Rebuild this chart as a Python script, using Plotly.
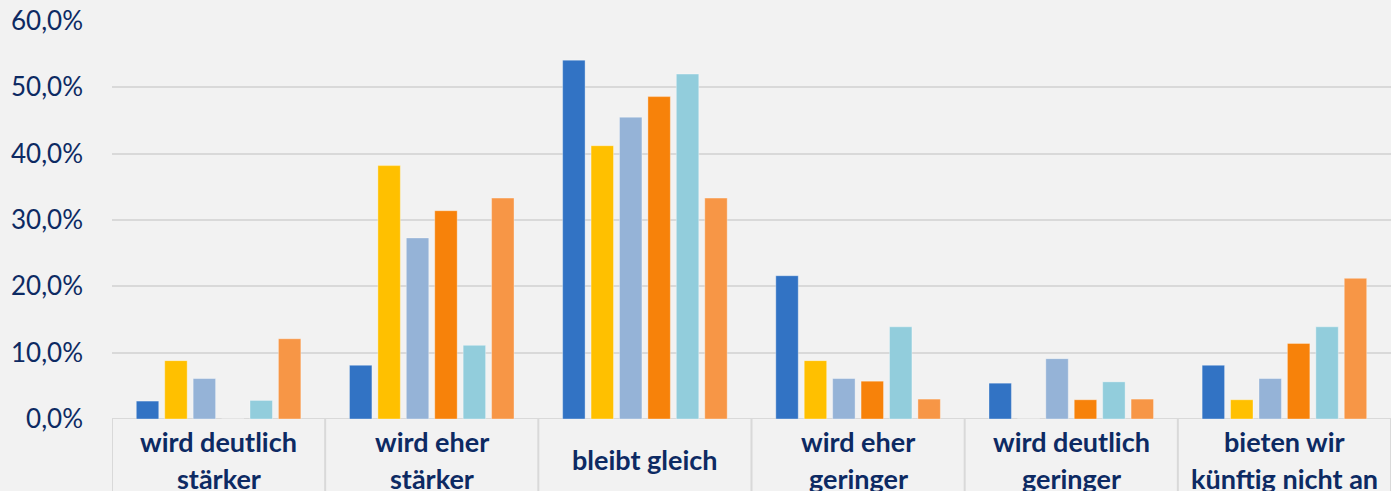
import plotly.graph_objects as go

categories = ["wird deutlich<br>stärker", "wird eher<br>stärker", "bleibt gleich",
              "wird eher<br>geringer", "wird deutlich<br>geringer", "bieten wir<br>künftig nicht an"]

series_names = ["Gruppe 1", "Gruppe 2", "Gruppe 3", "Gruppe 4", "Gruppe 5", "Gruppe 6"]
s1 = [2.7, 8.1, 54.1, 21.6, 5.4, 8.1]
s2 = [8.8, 38.2, 41.2, 8.8, 0.0, 2.9]
s3 = [6.1, 27.3, 45.5, 6.1, 9.1, 6.1]
s4 = [0.0, 31.4, 48.6, 5.7, 2.9, 11.4]
s5 = [2.8, 11.1, 52.0, 13.9, 5.6, 13.9]
s6 = [12.1, 33.3, 33.3, 3.0, 3.0, 21.2]
all_series = [s1, s2, s3, s4, s5, s6]
colors = ["#3273C4", "#FFC000", "#95B3D7", "#F7820A", "#92CDDC", "#F79646"]

tick_vals = [0, 10, 20, 30, 40, 50, 60]
tick_labels = ["0,0%", "10,0%", "20,0%", "30,0%", "40,0%", "50,0%", "60,0%"]

text_color = "#0D2A63"
grid_color = "#D9D9D9"
bg = "#F2F2F2"

W, H = 1391, 491
ml, mr, mt, mb = 112, 0, 21, 72
plot_h = H - mt - mb

fig = go.Figure()
x_idx = list(range(len(categories)))
for name, vals, col in zip(series_names, all_series, colors):
    fig.add_trace(go.Bar(
        x=x_idx, y=vals, name=name,
        marker=dict(color=col, line=dict(color="rgba(255,255,255,0.35)", width=1)),
        showlegend=False,
    ))

shapes = []
for i in range(len(categories) + 1):
    shapes.append(dict(type="line", xref="x", yref="paper",
                       x0=i - 0.5, x1=i - 0.5, y0=0, y1=-mb / plot_h,
                       line=dict(color=grid_color, width=2), layer="below"))
shapes.append(dict(type="line", xref="paper", yref="y", x0=0, x1=1, y0=0, y1=0,
                   line=dict(color=grid_color, width=2), layer="below"))

def py(pix):
    return (H - mb - pix) / plot_h

annotations = []
cat_font = dict(family="Lato", size=27, color=text_color)
for i, c in enumerate(categories):
    lines = c.split("<br>")
    if len(lines) == 1:
        ys = [459]
    else:
        ys = [441.5, 478]
    for ln, ypix in zip(lines, ys):
        annotations.append(dict(xref="x", yref="paper", x=i, y=py(ypix),
                                text="<b>" + ln + "</b>", showarrow=False,
                                xanchor="center", yanchor="middle", font=cat_font))

fig.update_layout(
    width=W, height=H,
    margin=dict(l=ml, r=mr, t=mt, b=mb, pad=0),
    paper_bgcolor=bg, plot_bgcolor=bg,
    barmode="group", bargap=0.2, bargroupgap=0.21,
    shapes=shapes, annotations=annotations,
    xaxis=dict(range=[-0.5, 5.5], showticklabels=False, showgrid=False,
               zeroline=False, showline=False, fixedrange=True),
    yaxis=dict(range=[0, 60], tickmode="array", tickvals=tick_vals, ticktext=tick_labels,
               showgrid=True, gridcolor=grid_color, gridwidth=2,
               zeroline=False, showline=False,
               tickfont=dict(family="Lato", size=26, color=text_color),
               ticklabelstandoff=28),
)

fig.write_html("out.html", config={"displayModeBar": False},
               post_script="document.body.style.margin='0';document.body.style.overflow='hidden';")
